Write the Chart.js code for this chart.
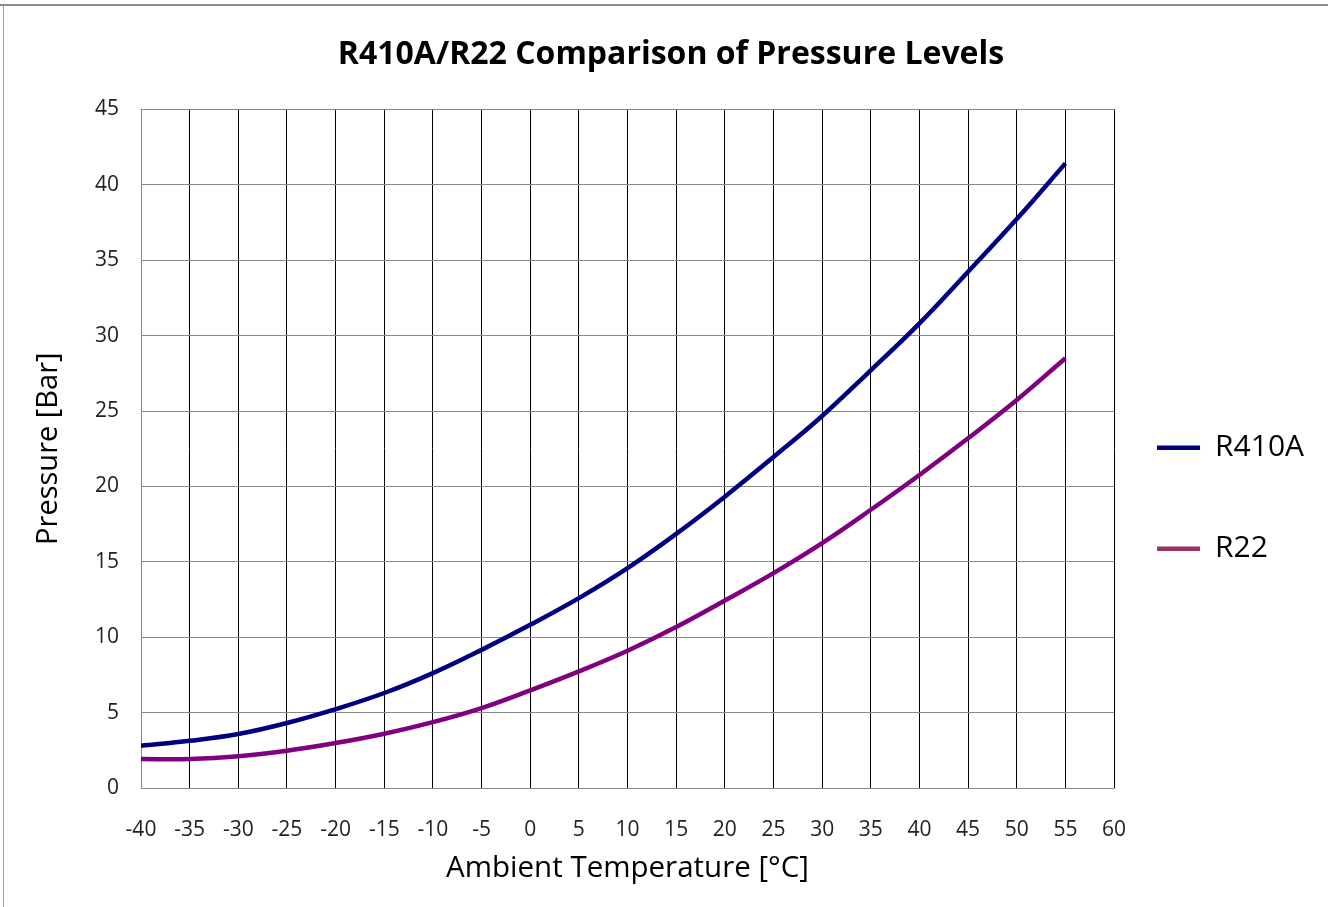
<!DOCTYPE html>
<html>
<head>
<meta charset="utf-8">
<script src="https://cdn.jsdelivr.net/npm/chart.js@4"></script>
<style>
html, body { margin: 0; padding: 0; background: #fff; }
#wrap { position: relative; width: 1328px; height: 907px; }
#wrap:before { content: ''; position: absolute; left: 0; top: 4px; width: 100%; height: 2px; background: #8c8c8c; }
#wrap:after { content: ''; position: absolute; left: 3px; top: 6px; width: 1px; height: 901px; background: #a0a0a0; }
</style>
</head>
<body>
<div id="wrap"><canvas id="chart" width="1328" height="907"></canvas></div>
<script>
// ambient temperature [°C]
var temps = [-40, -35, -30, -25, -20, -15, -10, -5, 0, 5, 10, 15, 20, 25, 30, 35, 40, 45, 50, 55];
// pressure [bar]
var r410a = [2.8, 3.13, 3.58, 4.31, 5.23, 6.3, 7.62, 9.16, 10.82, 12.59, 14.58, 16.85, 19.32, 21.95, 24.67, 27.7, 30.81, 34.24, 37.73, 41.42];
var r22 = [1.92, 1.92, 2.1, 2.47, 2.98, 3.6, 4.37, 5.3, 6.47, 7.73, 9.1, 10.67, 12.43, 14.25, 16.24, 18.45, 20.76, 23.19, 25.73, 28.5];

var seriesNames = ["R410A", "R22"];
var seriesColors = ["#000080", "#800080"];
var legendColors = ["#000080", "#993366"];

function toPoints(vals){
	var pts = [];
	for(var i=0; i<temps.length; i++){
		pts.push({x: temps[i], y: vals[i]});
	}
	return pts;
}

var FONT = "'Open Sans', sans-serif";

window.addEventListener('load', function(event){
	var context = document.getElementById('chart').getContext('2d');
	var chart = new Chart(context, {
		type: 'line',
		data: {
			datasets: [{
				label: seriesNames[0],
				data: toPoints(r410a),
				borderColor: seriesColors[0],
				backgroundColor: seriesColors[0],
				borderWidth: 4.5,
				pointRadius: 0,
				tension: 0.4,
				fill: false
			}, {
				label: seriesNames[1],
				data: toPoints(r22),
				borderColor: seriesColors[1],
				backgroundColor: seriesColors[1],
				borderWidth: 4.5,
				pointRadius: 0,
				tension: 0.4,
				fill: false
			}]
		},
		options: {
			responsive: false,
			animation: false,
			layout: { padding: { top: 0, right: 14, bottom: 20, left: 28 } },
			plugins: {
				tooltip: { enabled: false },
				title: {
					display: true,
					text: 'R410A/R22 Comparison of Pressure Levels',
					color: '#000',
					font: { family: FONT, size: 32, weight: 'bold' },
					padding: { top: 36, bottom: 35 }
				},
				legend: {
					position: 'right',
					title: { display: true, text: ' ', font: { size: 12 }, padding: { top: 61, bottom: 62 } },
					labels: {
						color: '#000',
						font: { family: FONT, size: 30, lineHeight: 1.933 },
						padding: 43,
						usePointStyle: true,
						pointStyle: 'line',
						pointStyleWidth: 43,
						generateLabels: function(c){
							// array text gives taller rows
							return Chart.defaults.plugins.legend.labels.generateLabels(c).map(function(l, i){
								l.text = [l.text];
								l.strokeStyle = legendColors[i];
								return l;
							});
						}
					}
				}
			},
			scales: {
				x: {
					type: 'linear',
					min: -40,
					max: 60,
					afterFit: function(scale){ scale.height = 99; },
					ticks: { stepSize: 5, color: '#222', padding: 29, font: { family: FONT, size: 21 } },
					grid: { color: '#000', lineWidth: 1, drawTicks: false },
					border: { color: '#888' },
					title: { display: true, text: 'Ambient Temperature [°C]', color: '#000', font: { family: FONT, size: 29.5 }, padding: { top: 0, bottom: 1 } }
				},
				y: {
					min: 0,
					max: 45,
					afterFit: function(scale){ scale.width = 113; },
					ticks: { stepSize: 5, color: '#222', padding: 22, font: { family: FONT, size: 21 } },
					grid: { color: '#888', lineWidth: 1, drawTicks: false },
					border: { color: '#888' },
					title: { display: true, text: 'Pressure [Bar]', color: '#000', font: { family: FONT, size: 29 }, padding: { top: 3, bottom: 0 } }
				}
			}
		}
	});
	console.log(JSON.stringify(chart.chartArea));
});
</script>
</body>
</html>
